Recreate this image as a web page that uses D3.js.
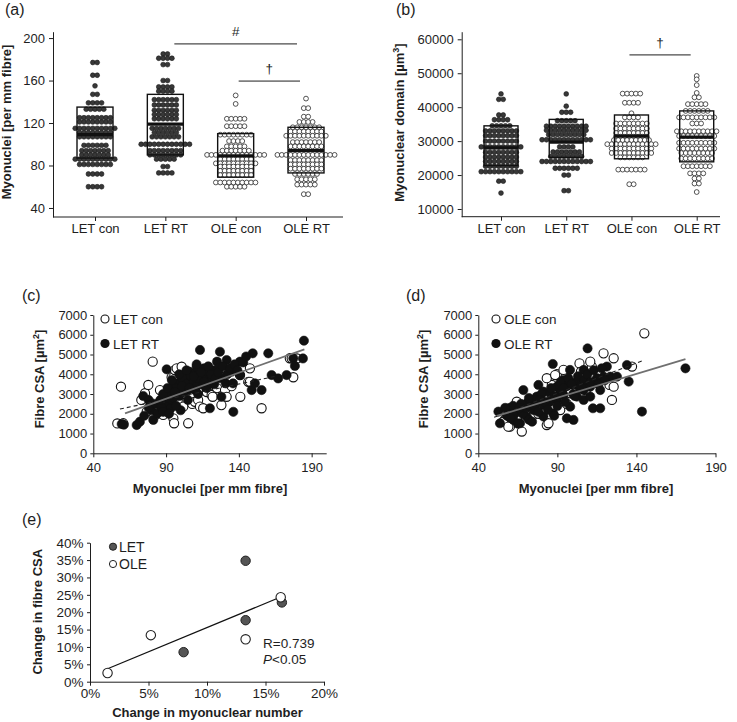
<!DOCTYPE html>
<html><head><meta charset="utf-8">
<script src="https://cdn.jsdelivr.net/npm/d3@7"></script>
<style>body{margin:0;background:#fff} svg{display:block}</style>
</head><body><svg id="c" width="737" height="722"></svg>
<script>
const FONT = '"Liberation Sans", Arial, Helvetica, sans-serif';
const categories = ["LET con", "LET RT", "OLE con", "OLE RT"];
const groupFilled = [true, true, false, false];

// ---- panel (a): myonuclei per mm fibre, dot rows [value, count]
const aLetCon = [[177,2],[165,2],[155,1],[147,2],[139,4],[133,5],[125,8],[121,8],[115,10],[111,8],[107,8],[99,6],[94,7],[90,7],[86,10],[81,8],[72,4],[60,4]];
const aLetRt  = [[185,2],[181,4],[175,2],[160,2],[154,4],[150,4],[142,6],[137,6],[132,6],[128,6],[124,6],[115,7],[111,6],[107,7],[100,12],[94,8],[90,8],[86,5],[79,2],[73,4]];
const aOleCon = [[146,1],[138,1],[124,5],[117,5],[109,8],[103,4],[98,5],[94,7],[90,14],[86,8],[82,10],[79,8],[75,8],[71,8],[64,10],[60,5]];
const aOleRt  = [[143,1],[134,2],[126,2],[121,4],[116,7],[112,8],[108,10],[102,7],[98,8],[90,14],[85,8],[81,8],[77,8],[72,6],[67,5],[62,5],[53,2]];
const aQ1 = [87, 90, 69, 73];
const aMedian = [109, 119, 89, 94];
const aQ3 = [135, 147, 110, 116];
const aTicks = [40, 80, 120, 160, 200];
const aSigFrom = ["LET RT", "OLE con"];
const aSigTo = ["OLE RT", "OLE RT"];
const aSigLabel = ["#", "\u2020"];
const aSigLevel = [194.5, 159.5];

// ---- panel (b): myonuclear domain
const bLetCon = [[43900,1],[42300,2],[37700,2],[36300,4],[34500,5],[33000,8],[31600,8],[30000,8],[28300,10],[26700,8],[25300,8],[24000,8],[22600,8],[21000,10],[18200,2],[14700,1]];
const bLetRt  = [[43900,1],[40300,1],[38500,3],[36000,5],[34400,10],[33200,10],[31900,9],[30400,12],[28300,4],[26800,7],[25500,8],[24000,12],[22000,6],[20000,2],[15400,2]];
const bOleCon = [[44000,5],[41300,4],[38200,1],[37000,4],[35200,8],[33700,8],[32400,8],[31300,8],[30300,9],[29100,12],[27800,10],[26500,10],[25200,6],[21600,7],[17300,2]];
const bOleRt  = [[49200,1],[48200,1],[46500,1],[44200,1],[42900,2],[40900,5],[38900,6],[37000,9],[35200,3],[32900,10],[31500,9],[29500,9],[27800,9],[26500,8],[24900,8],[22600,7],[20500,4],[19000,2],[17500,2],[15000,1]];
const bQ1 = [22800, 25200, 24800, 23900];
const bMedian = [28000, 29700, 31500, 31200];
const bQ3 = [34500, 36400, 37700, 38900];
const bTicks = [10000, 20000, 30000, 40000, 50000, 60000];
const bSigFrom = ["OLE con"];
const bSigTo = ["OLE RT"];
const bSigLabel = ["\u2020"];
const bSigLevel = [55400];

// ---- panel (c): LET fibres
const cConX = [56.5,60.6,59,73,75.5,76.7,77.8,80.8,82,85,85.8,85.8,88,89.2,90,93.8,95,95,95.5,96,97.3,98,100.7,101.8,102,105.2,108,109.8,112,113.3,113.3,115.5,118,121.3,122,125,128,130.5,131.6,135,140.8,141,146.5,147.6,147.6,155.6,175,176.3,177.4,180];
const cConY = [1510,1520,3370,2700,3040,2110,3460,4640,1900,2500,3200,2020,1940,2700,2200,3850,1770,3830,1520,4210,4300,2700,4380,2360,3000,1520,2500,2610,2700,2360,3200,2280,3100,2950,2860,3300,2440,3200,2860,3400,3960,2860,3620,4300,3620,2280,4810,4810,3850,4800];
const cRtX = [59.5,61,69.8,72,74.3,81.2,80,84,84,89,90.4,92,90,93,95,98,100,103,105,105,106,108,110,110,111,113,113.3,116,117,118,120.1,120,122,125,127,127,128,131,131.6,135,136,136.2,140.8,140.8,148.8,149.5,151,155.6,160.2,162.5,167,172.8,177.4,178.5,184,184.7,93,100,78,80.7,98,103,115,119,124,126,108,112,101,104,107,109,111,114,116,119,121,123,97,99,102,87,86,95,112,118,88,91,94,96,99,101,104,106,109,111,114,116,119,121,124,126,129,132,134,137,139,143,145,88,92,97,75,78];
const cRtY = [1480,1450,1430,1600,2900,1690,2180,2500,2010,2860,4250,2600,2350,2260,3360,3040,3540,3880,2700,3200,4130,3700,4050,3200,4380,3900,5230,4300,3370,4050,2280,3700,4200,4640,5140,3800,2860,3540,4720,4130,3540,2100,4640,3960,3200,5060,3540,3200,5060,3960,3790,3960,4810,4420,4800,5700,3040,2180,2700,2520,3540,3400,3500,3600,4000,4300,3300,3000,3800,3500,3900,3600,3400,3700,3900,4100,3900,3500,3300,2900,3100,2300,2700,2800,3800,3300,3000,3300,3700,3100,4000,3400,4200,3300,3900,4500,4100,3600,4400,4000,3800,4100,4400,4000,4300,4500,4200,4600,4900,2100,2000,2400,1900,2300];
const cFitConX = [58.3, 166], cFitConY = [2240, 3910];
const cFitRtX = [61.8, 185], cFitRtY = [2020, 5260];

// ---- panel (d): OLE fibres
const dConX = [145,119.2,125.6,104,111.8,89.7,86.5,93.9,104.9,83.3,137.2,123,125.6,124.5,83.3,60,67.5,64.3,72.7,56.9,98.1,91.8,81.2,77,59,55.8,59,74.9,84.4,110.8,88.6,96,70,65,100,115,108,78];
const dConY = [6070,5060,4810,4550,4390,4000,3460,4220,4130,3800,4390,3460,3370,2700,1430,1350,1100,2610,2190,1720,3040,2190,2870,2700,1770,1600,1350,1940,1520,4640,3960,2500,2300,1900,3500,3600,3200,2000];
const dRtX = [52.7,53.7,87.1,109.1,171,135.1,143.5,112.5,117.1,134,96,100.2,68.5,78,81.2,98.1,106.6,110.8,119.2,121.3,115,106.6,102.3,93.9,89.7,93.9,89.7,81.2,74.9,70.6,66.4,62.2,64.3,70.6,77,85.4,81.2,87.5,102.3,110.8,117.1,123.5,127.7,98,106.6,58,60,63,75,85,92,96,100,104,108,113,72,67,60,62,65,68,70,72,74,76,78,80,82,84,86,88,90,92,94,95,97,99,101,103,105,107,109,111,113,116,118,120,88,79,66,57];
const dRtY = [2110,1520,4520,5310,4300,3630,2110,2280,2280,4470,1770,1690,3200,3460,3120,2360,2700,3370,3880,4390,3800,3200,3630,3710,3370,2950,2700,2450,2190,1860,1520,1690,2190,2530,2870,3040,1860,2020,2870,2870,3200,3880,3880,4220,4220,1900,2300,2000,2700,2600,3100,3400,3000,3300,3500,3600,1700,2500,1800,2400,1500,2000,2300,2800,1600,2400,2100,3000,2600,2200,3300,2900,2400,3600,3300,2600,3800,3500,2900,3900,3400,3700,4000,3600,4200,3500,4300,3700,1900,2700,2300,2300];
const dFitConX = [50, 145], dFitConY = [1820, 4720];
const dFitRtX = [51.7, 171], dFitRtY = [1890, 4770];
const scatterXTicks = [40, 90, 140, 190];
const scatterYTicks = [0, 1000, 2000, 3000, 4000, 5000, 6000, 7000];

// ---- panel (e): change in myonuclear number vs change in CSA
const eLetX = [0.133, 0.133, 0.164, 0.080];
const eLetY = [0.348, 0.177, 0.228, 0.085];
const eOleX = [0.015, 0.052, 0.133, 0.163];
const eOleY = [0.025, 0.134, 0.122, 0.243];
const eFitX = [0.014, 0.164], eFitY = [0.036, 0.245];
const eXTicks = [0, 0.05, 0.10, 0.15, 0.20];
const eYTicks = [0, 0.05, 0.10, 0.15, 0.20, 0.25, 0.30, 0.35, 0.40];

const svg = d3.select("#c");
svg.append("rect").attr("width", 737).attr("height", 722).attr("fill", "#fff");
const INK = "#1e1e1e";

function styleAxis(g, fs) {
  g.attr("font-family", FONT).attr("font-size", fs || 13);
  g.selectAll("path,line").attr("stroke", INK).attr("stroke-width", 1);
  g.selectAll("text").attr("fill", INK);
}
function hline(x1, x2, y) {
  svg.append("line").attr("x1", x1).attr("x2", x2).attr("y1", y).attr("y2", y)
    .attr("stroke", INK).attr("stroke-width", 1);
}
function txt(x, y, s, opt) {
  opt = opt || {};
  const t = svg.append("text").attr("x", x).attr("y", y).attr("font-family", FONT)
    .attr("font-size", opt.size || 13).attr("fill", INK)
    .attr("font-weight", opt.bold ? "bold" : "normal")
    .attr("text-anchor", opt.anchor || "start");
  if (opt.rot) t.attr("transform", `rotate(-90,${x},${y})`);
  t.text(s);
  return t;
}
function titleSup(x, y, main, sup, rot) {
  const t = svg.append("text").attr("x", x).attr("y", y).attr("font-family", FONT)
    .attr("font-size", 13).attr("font-weight", "bold").attr("fill", INK)
    .attr("text-anchor", "middle");
  if (rot) t.attr("transform", `rotate(-90,${x},${y})`);
  t.append("tspan").text(main);
  t.append("tspan").attr("font-size", 9).attr("dy", "-5").text(sup);
  t.append("tspan").attr("dy", "5").text("]");
}

// ============ dot-plot panels ============
function dotPanel(cfg) {
  const { y, x, rows, q1, med, q3, axisX, axisXEnd, ticks, fmt, boxW, sigFrom, sigTo, sigLabel, sigLevel, sigOff } = cfg;
  const spacing = 4.4, r = 2.4;
  rows.forEach((grp, gi) => {
    const cx = x(categories[gi]);
    const filled = groupFilled[gi];
    grp.forEach(([v, n]) => {
      for (let i = 0; i < n; i++) {
        svg.append("circle").attr("cx", cx + (i - (n - 1) / 2) * spacing).attr("cy", y(v)).attr("r", r)
          .attr("fill", filled ? "#383838" : "#fff").attr("stroke", filled ? "#1a1a1a" : "#2a2a2a")
          .attr("stroke-width", filled ? 0.6 : 0.8);
      }
    });
    svg.append("rect").attr("x", cx - boxW / 2).attr("width", boxW)
      .attr("y", y(q3[gi])).attr("height", y(q1[gi]) - y(q3[gi]))
      .attr("fill", "none").attr("stroke", "#111").attr("stroke-width", 1.4);
    svg.append("line").attr("x1", cx - boxW / 2).attr("x2", cx + boxW / 2)
      .attr("y1", y(med[gi])).attr("y2", y(med[gi])).attr("stroke", "#111").attr("stroke-width", 3.2);
  });
  const ga = svg.append("g").attr("transform", `translate(${axisX},0)`)
    .call(d3.axisLeft(y).tickValues(ticks).tickFormat(fmt).tickSize(4).tickPadding(4).tickSizeOuter(0));
  styleAxis(ga, 13);
  const baseY = y.range()[0];
  const gb = svg.append("g").attr("transform", `translate(0,${baseY})`)
    .call(d3.axisBottom(x).tickSize(4).tickPadding(3));
  gb.select(".domain").remove();
  styleAxis(gb, 13);
  hline(axisX, axisXEnd, baseY);
  sigFrom.forEach((f, i) => {
    const x1 = x(f) + sigOff[i][0], x2 = x(sigTo[i]) + sigOff[i][1];
    const yy = y(sigLevel[i]);
    hline(x1, x2, yy);
    txt((x1 + x2) / 2, yy - 8, sigLabel[i], { anchor: "middle", size: 13.5 });
  });
}

const aY = d3.scaleLinear().domain([31.5, 206]).range([217, 31.7]);
const aX = d3.scalePoint().domain(categories).range([95, 306]);
dotPanel({ y: aY, x: aX, rows: [aLetCon, aLetRt, aOleCon, aOleRt], q1: aQ1, med: aMedian, q3: aQ3,
  axisX: 53, axisXEnd: 343, ticks: aTicks, fmt: d3.format("d"), boxW: 36,
  sigFrom: aSigFrom, sigTo: aSigTo, sigLabel: aSigLabel, sigLevel: aSigLevel, sigOff: [[9, -9], [3, -6]] });
txt(5, 15, "(a)", { size: 16 });
txt(10.6, 122, "Myonuclei [per mm fibre]", { bold: true, anchor: "middle", rot: true });

const bY = d3.scaleLinear().domain([7730, 62240]).range([216.7, 31.7]);
const bX = d3.scalePoint().domain(categories).range([501, 696.7]);
dotPanel({ y: bY, x: bX, rows: [bLetCon, bLetRt, bOleCon, bOleRt], q1: bQ1, med: bMedian, q3: bQ3,
  axisX: 461.7, axisXEnd: 720, ticks: bTicks, fmt: d3.format("d"), boxW: 34,
  sigFrom: bSigFrom, sigTo: bSigTo, sigLabel: bSigLabel, sigLevel: bSigLevel, sigOff: [[-2, -6]] });
txt(396, 15, "(b)", { size: 16 });
titleSup(404, 122.5, "Myonuclear domain [\u00b5m", "3", true);

// ============ scatter panels ============
function scatterPanel(cfg) {
  const { x, y, axisX, conX, conY, rtX, rtY, fitCon, fitRt, legX, legCon, legRt, label, labelX, yTitleX, xTitleX } = cfg;
  conX.forEach((v, i) => {
    svg.append("circle").attr("cx", x(v)).attr("cy", y(conY[i])).attr("r", 4.6)
      .attr("fill", "#fff").attr("stroke", "#111").attr("stroke-width", 1.1);
  });
  rtX.forEach((v, i) => {
    svg.append("circle").attr("cx", x(v)).attr("cy", y(rtY[i])).attr("r", 4.6)
      .attr("fill", "#111").attr("stroke", "#111").attr("stroke-width", 0.6);
  });
  const line = d3.line().x(d => x(d[0])).y(d => y(d[1]));
  svg.append("path").attr("d", line(fitCon[0].map((v, i) => [v, fitCon[1][i]])))
    .attr("stroke", "#222").attr("stroke-width", 1.1).attr("stroke-dasharray", "4,3").attr("fill", "none");
  svg.append("path").attr("d", line(fitRt[0].map((v, i) => [v, fitRt[1][i]])))
    .attr("stroke", "#707070").attr("stroke-width", 1.8).attr("fill", "none");
  const gy = svg.append("g").attr("transform", `translate(${axisX},0)`)
    .call(d3.axisLeft(y).tickValues(scatterYTicks).tickFormat(d3.format("d")).tickSize(3).tickPadding(3).tickSizeOuter(0));
  styleAxis(gy, 13);
  const gx = svg.append("g").attr("transform", `translate(0,${y(0)})`)
    .call(d3.axisBottom(x).tickValues(scatterXTicks).tickSize(4).tickPadding(5).tickSizeOuter(0));
  styleAxis(gx, 13);
  svg.append("circle").attr("cx", legX).attr("cy", 319).attr("r", 4).attr("fill", "#fff").attr("stroke", "#111").attr("stroke-width", 1.1);
  svg.append("circle").attr("cx", legX).attr("cy", 343.5).attr("r", 4.6).attr("fill", "#111");
  txt(legX + 8, 324, legCon, { size: 13.5 });
  txt(legX + 8, 348.5, legRt, { size: 13.5 });
  txt(labelX, 301, label, { size: 16 });
  titleSup(yTitleX, 379, "Fibre CSA [\u00b5m", "2", true);
  txt(xTitleX, 492.5, "Myonuclei [per mm fibre]", { bold: true, anchor: "middle" });
}

const cX = d3.scaleLinear().domain([40, 200]).range([93.3, 326.2]);
const cY = d3.scaleLinear().domain([0, 7000]).range([453.3, 315]);
scatterPanel({ x: cX, y: cY, axisX: 93.3, conX: cConX, conY: cConY, rtX: cRtX, rtY: cRtY,
  fitCon: [cFitConX, cFitConY], fitRt: [cFitRtX, cFitRtY], legX: 105, legCon: "LET con", legRt: "LET RT",
  label: "(c)", labelX: 22, yTitleX: 44, xTitleX: 210 });

const dX = d3.scaleLinear().domain([40, 190]).range([478.3, 715.5]);
const dY = d3.scaleLinear().domain([0, 7000]).range([453.3, 315]);
scatterPanel({ x: dX, y: dY, axisX: 478.3, conX: dConX, conY: dConY, rtX: dRtX, rtY: dRtY,
  fitCon: [dFitConX, dFitConY], fitRt: [dFitRtX, dFitRtY], legX: 496, legCon: "OLE con", legRt: "OLE RT",
  label: "(d)", labelX: 406, yTitleX: 427.5, xTitleX: 596 });

// ============ panel (e) ============
const eX = d3.scaleLinear().domain([0, 0.2]).range([90, 324]);
const eY = d3.scaleLinear().domain([0, 0.4]).range([681.7, 542.7]);
const eLine = d3.line().x(d => eX(d[0])).y(d => eY(d[1]));
svg.append("path").attr("d", eLine(eFitX.map((v, i) => [v, eFitY[i]])))
  .attr("stroke", "#111").attr("stroke-width", 1.2).attr("fill", "none");
eLetX.forEach((v, i) => {
  svg.append("circle").attr("cx", eX(v)).attr("cy", eY(eLetY[i])).attr("r", 4.7)
    .attr("fill", "#555").attr("stroke", "#222").attr("stroke-width", 1);
});
eOleX.forEach((v, i) => {
  svg.append("circle").attr("cx", eX(v)).attr("cy", eY(eOleY[i])).attr("r", 4.7)
    .attr("fill", "#fff").attr("stroke", "#222").attr("stroke-width", 1.1);
});
const egy = svg.append("g").attr("transform", "translate(90,0)")
  .call(d3.axisLeft(eY).tickValues(eYTicks).tickFormat(d3.format(".0%")).tickSize(3).tickPadding(3.5).tickSizeOuter(0));
styleAxis(egy, 13.5);
const egx = svg.append("g").attr("transform", `translate(0,${eY(0)})`)
  .call(d3.axisBottom(eX).tickValues(eXTicks).tickFormat(d3.format(".0%")).tickSize(4).tickPadding(3).tickSizeOuter(0));
styleAxis(egx, 13.5);
svg.append("circle").attr("cx", 113).attr("cy", 546.7).attr("r", 3.6).attr("fill", "#555").attr("stroke", "#222");
svg.append("circle").attr("cx", 113).attr("cy", 564).attr("r", 3.6).attr("fill", "#fff").attr("stroke", "#222");
txt(119, 551.5, "LET", { size: 14 });
txt(119, 569, "OLE", { size: 14 });
txt(263, 648, "R=0.739", { size: 13.5 });
const pt = txt(263, 663.5, "", { size: 13.5 });
pt.append("tspan").attr("font-style", "italic").text("P");
pt.append("tspan").text("<0.05");
txt(22, 525, "(e)", { size: 16 });
txt(42.5, 611.7, "Change in fibre CSA", { bold: true, anchor: "middle", rot: true });
txt(207.5, 717, "Change in myonuclear number", { bold: true, anchor: "middle" });
</script>
</body></html>
